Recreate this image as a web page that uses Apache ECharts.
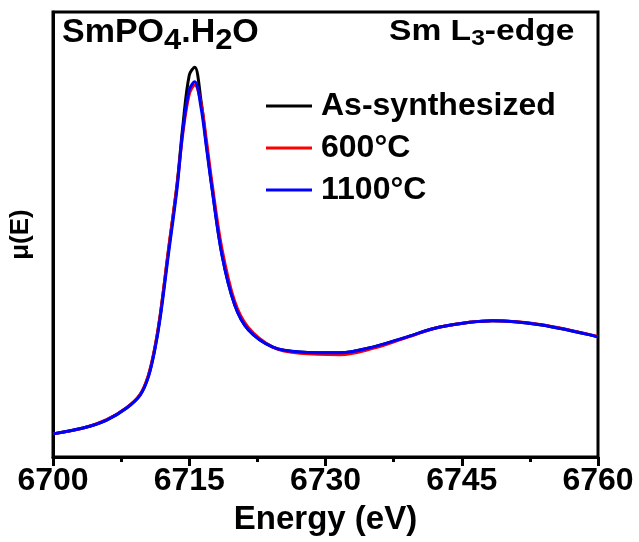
<!DOCTYPE html>
<html>
<head>
<meta charset="utf-8">
<script src="https://cdn.jsdelivr.net/npm/echarts@6/dist/echarts.min.js"></script>
<style>
html,body{margin:0;padding:0;background:#fff;}
#chart{width:639px;height:542px;}
</style>
</head>
<body>
<div id="chart"></div>
<script>
const energy = [6700, 6703.3, 6705.9, 6708.1, 6709.6, 6710.5, 6711.2, 6711.8, 6712.7, 6713.65, 6714.3, 6715.0, 6715.6, 6716.3, 6716.9, 6717.5, 6718.6, 6720, 6721.5, 6724.2, 6727.2, 6731.6, 6735.2, 6739, 6742.6, 6748.4, 6753.6, 6760];
const asSynth = [0.052, 0.065, 0.083, 0.110, 0.140, 0.182, 0.243, 0.318, 0.462, 0.612, 0.745, 0.858, 0.876, 0.800, 0.700, 0.606, 0.455, 0.342, 0.286, 0.247, 0.236, 0.234, 0.247, 0.270, 0.292, 0.306, 0.297, 0.270];
const t600 = [0.052, 0.065, 0.084, 0.111, 0.141, 0.184, 0.245, 0.318, 0.465, 0.610, 0.728, 0.815, 0.836, 0.795, 0.710, 0.617, 0.468, 0.350, 0.291, 0.247, 0.233, 0.230, 0.244, 0.269, 0.292, 0.306, 0.298, 0.271];
const t1100 = [0.052, 0.065, 0.083, 0.110, 0.139, 0.180, 0.240, 0.312, 0.454, 0.602, 0.735, 0.825, 0.843, 0.785, 0.695, 0.604, 0.454, 0.342, 0.286, 0.247, 0.236, 0.234, 0.247, 0.270, 0.292, 0.306, 0.297, 0.270];
const seriesNames = ['As-synthesized', '600°C', '1100°C'];
const xTicks = {min: 6700, max: 6760, interval: 15};

const zip = (xs, ys) => xs.map((x, i) => [x, ys[i]]);
const FONT = '"Liberation Sans", Arial, sans-serif';

const chart = echarts.init(document.getElementById('chart'), null, {renderer: 'canvas'});
const mkSeries = (name, data, color, z) => ({
  name, type: 'line', data: zip(energy, data), smooth: 0.35, symbol: 'none', z,
  lineStyle: {color, width: 3}, itemStyle: {color}
});
chart.setOption({
  animation: false,
  backgroundColor: '#fff',
  grid: {left: 53, right: 41, top: 12, bottom: 85, show: true, borderColor: '#000', borderWidth: 3,
         backgroundColor: 'transparent', containLabel: false, outerBoundsMode: 'none'},
  xAxis: {
    type: 'value', min: xTicks.min, max: xTicks.max, interval: xTicks.interval,
    name: 'Energy (eV)', nameLocation: 'middle', nameGap: 46,
    nameTextStyle: {fontFamily: FONT, fontWeight: 'bold', fontSize: 33, color: '#000'},
    axisLine: {show: true, lineStyle: {color: '#000', width: 3}},
    axisTick: {show: true, inside: false, length: 9, lineStyle: {color: '#000', width: 3}},
    minorTick: {show: true, splitNumber: 2, length: 5, lineStyle: {color: '#000', width: 3}},
    splitLine: {show: false},
    axisLabel: {fontFamily: FONT, fontWeight: 'bold', fontSize: 32, color: '#000', margin: 8,
                formatter: v => String(v)}
  },
  yAxis: {
    type: 'value', min: 0, max: 1,
    name: 'μ(E)', nameLocation: 'middle', nameGap: 19,
    nameTextStyle: {fontFamily: FONT, fontWeight: 'bold', fontSize: 26, color: '#000'},
    axisLine: {show: true, lineStyle: {color: '#000', width: 3}},
    axisTick: {show: false}, axisLabel: {show: false}, splitLine: {show: false}
  },
  legend: {
    data: seriesNames, orient: 'vertical', left: 266, top: 90, itemGap: 10, padding: 0,
    itemWidth: 46, itemHeight: 3, icon: 'rect',
    textStyle: {fontFamily: FONT, fontWeight: 'bold', fontSize: 32, color: '#000', lineHeight: 32, padding: [0, 0, 0, 4]}
  },
  graphic: [
    {type: 'text', x: 62, y: 16, scaleX: 1.03, style: {
      text: '{a|SmPO}{s|4}{a|.H}{s|2}{a|O}',
      rich: {
        a: {fontFamily: FONT, fontWeight: 'bold', fontSize: 33, fill: '#000', verticalAlign: 'top', lineHeight: 34},
        s: {fontFamily: FONT, fontWeight: 'bold', fontSize: 30, fill: '#000', verticalAlign: 'top', lineHeight: 34, padding: [10, 0, 0, 0]}
      }
    }},
    {type: 'text', x: 389, y: 17, scaleX: 1.12, style: {
      text: '{a|Sm L}{s|3}{a|-edge}',
      rich: {
        a: {fontFamily: FONT, fontWeight: 'bold', fontSize: 30, fill: '#000', verticalAlign: 'top', lineHeight: 32},
        s: {fontFamily: FONT, fontWeight: 'bold', fontSize: 22, fill: '#000', verticalAlign: 'top', lineHeight: 32, padding: [11, 0, 0, 0]}
      }
    }}
  ],
  series: [
    mkSeries(seriesNames[0], asSynth, '#000000', 2),
    mkSeries(seriesNames[1], t600, '#ff0000', 3),
    mkSeries(seriesNames[2], t1100, '#0000ff', 4)
  ]
});
</script>
</body>
</html>
